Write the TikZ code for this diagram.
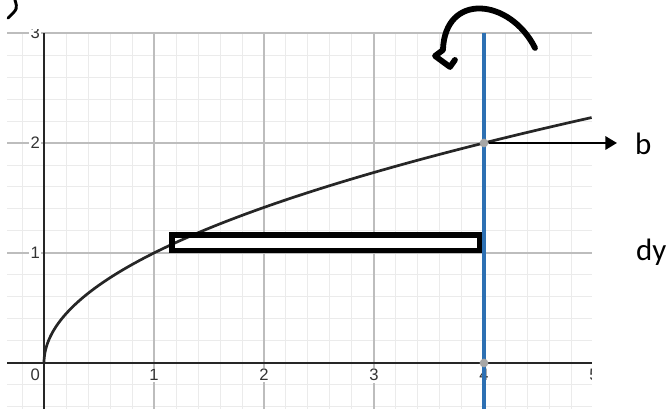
\documentclass[tikz,border=0pt]{standalone}
\usepackage{fontspec}
\newfontfamily\lblfont{Carlito}
\newfontfamily\tickfont{Liberation Sans}
\usetikzlibrary{arrows.meta}
\definecolor{gridmin}{HTML}{EBEBEB}
\definecolor{gridmaj}{HTML}{BDBDBD}
\definecolor{desblue}{HTML}{2D70B3}

\begin{document}
\begin{tikzpicture}[x=2cm,y=2cm,>={Triangle[length=6pt,width=7pt]},
  tick/.style={font=\tickfont\fontsize{8.6}{9}\selectfont,text=black!80,fill=white,inner sep=0.8pt},
  dot/.style={circle,fill=black!35,inner sep=0pt,minimum size=4.5pt},
  lbl/.style={font=\lblfont\fontsize{16}{18}\selectfont,anchor=base west,inner sep=0pt},
  hand/.style={line width=3pt,line cap=round,line join=round}]
\useasboundingbox (-0.4,-0.418) rectangle (5.673,3.3);
\begin{scope}
\clip (-0.336,-0.418) rectangle (4.98,3.03);
\draw[gridmin,line width=0.5pt] (-0.4,-0.6) grid[step=0.2] (5.2,3);
\draw[gridmaj,line width=0.6pt] (-1,-1) grid[step=1] (5.2,3);
\node[tick] (x0) at (-0.08,-0.11) {0};
\foreach \n in {1,...,5} \node[tick] (x\n) at (\n,-0.11) {\n};
\foreach \n in {1,2,3} \node[tick] (y\n) at (-0.08,\n) {\n};
\end{scope}
\draw[black!85,line width=1pt] (-0.336,0) -- (4.98,0);
\draw[black!85,line width=1pt] (0,-0.418) -- (0,3);
\fill[white] (1.164,1.023) rectangle (3.959,1.164);
\draw[black!85,line width=1.4pt] plot[domain=0:2.2316,samples=80] ({\x*\x},\x);
\draw[desblue,line width=1.8pt] (4,3) -- (4,-0.418);
\draw[line width=2.8pt] (1.164,1.023) rectangle (3.959,1.164);
\node[dot] (b) at (4,2) {};
\node[dot] (o) at (4,0) {};
\coordinate (btip) at (5.209,2);
\draw[->,line width=0.8pt] (b) -- (btip);
\node[lbl] (blbl) at (5.37,1.891) {b};
\node[lbl] (dylbl) at (5.38,0.936) {dy};
% hand-drawn turn
\draw[hand] (4.464,2.864) .. controls (4.236,3.318) and (3.645,3.373) .. (3.627,2.845)
  -- (3.555,2.791) -- (3.691,2.691) -- (3.736,2.755);
\draw[line width=1.5pt,line cap=round] (-0.264,3.3) .. controls (-0.24,3.22) .. (-0.327,3.136);
\end{tikzpicture}
\end{document}
